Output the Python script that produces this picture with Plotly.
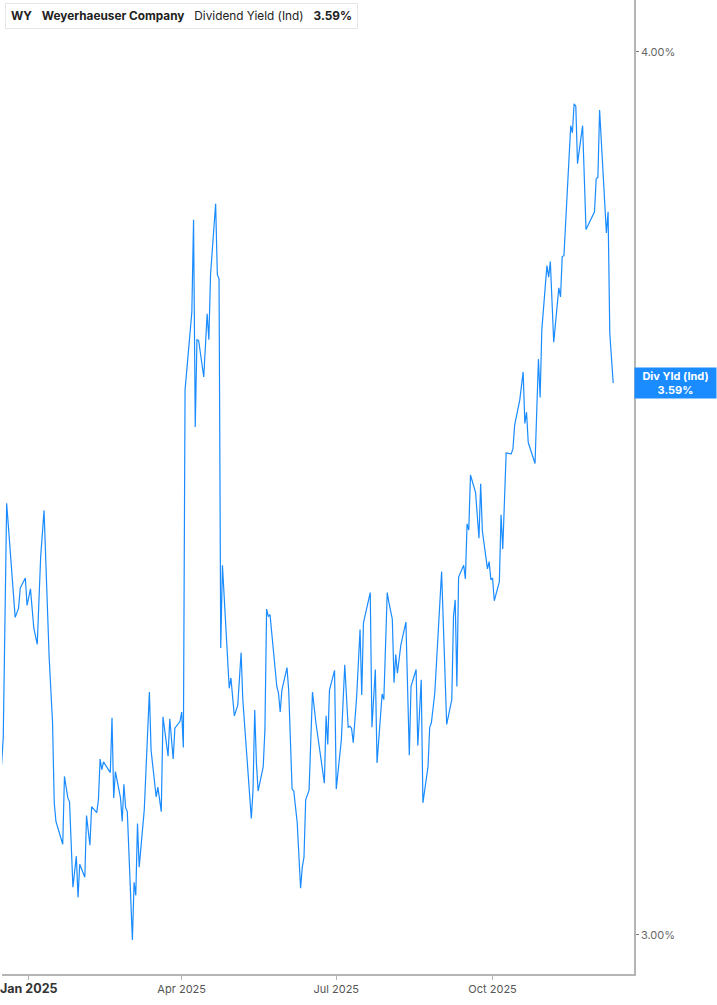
import numpy as np
import plotly.graph_objects as go

# WY dividend yield (indicated), %
dates = [
    "2024-12-16", "2024-12-17", "2024-12-19", "2024-12-22", "2024-12-24", "2024-12-26", "2024-12-27",
    "2024-12-30", "2024-12-31", "2025-01-02", "2025-01-04", "2025-01-06", "2025-01-08", "2025-01-10",
    "2025-01-13", "2025-01-15", "2025-01-16", "2025-01-17", "2025-01-21", "2025-01-22", "2025-01-24",
    "2025-01-25", "2025-01-27", "2025-01-29", "2025-01-30", "2025-01-31", "2025-02-03", "2025-02-04",
    "2025-02-06", "2025-02-07", "2025-02-10", "2025-02-11", "2025-02-12", "2025-02-13", "2025-02-14",
    "2025-02-18", "2025-02-19", "2025-02-20", "2025-02-21", "2025-02-24", "2025-02-25", "2025-02-26",
    "2025-02-27", "2025-02-28", "2025-03-02", "2025-03-03", "2025-03-04", "2025-03-05", "2025-03-06",
    "2025-03-07", "2025-03-10", "2025-03-13", "2025-03-14", "2025-03-17", "2025-03-18", "2025-03-20",
    "2025-03-21", "2025-03-24", "2025-03-25", "2025-03-27", "2025-03-28", "2025-03-31", "2025-04-01",
    "2025-04-02", "2025-04-03", "2025-04-07", "2025-04-08", "2025-04-09", "2025-04-10", "2025-04-11",
    "2025-04-14", "2025-04-16", "2025-04-17", "2025-04-18", "2025-04-21", "2025-04-22", "2025-04-23",
    "2025-04-24", "2025-04-25", "2025-04-28", "2025-04-29", "2025-04-30", "2025-05-02", "2025-05-04",
    "2025-05-06", "2025-05-07", "2025-05-12", "2025-05-13", "2025-05-14", "2025-05-15", "2025-05-16",
    "2025-05-19", "2025-05-20", "2025-05-21", "2025-05-22", "2025-05-23", "2025-05-25", "2025-05-27",
    "2025-05-28", "2025-05-29", "2025-05-30", "2025-06-02", "2025-06-03", "2025-06-05", "2025-06-06",
    "2025-06-08", "2025-06-10", "2025-06-11", "2025-06-12", "2025-06-13", "2025-06-15", "2025-06-17",
    "2025-06-19", "2025-06-24", "2025-06-25", "2025-06-26", "2025-06-27", "2025-06-30", "2025-07-01",
    "2025-07-04", "2025-07-06", "2025-07-08", "2025-07-09", "2025-07-10", "2025-07-11", "2025-07-13",
    "2025-07-15", "2025-07-16", "2025-07-17", "2025-07-21", "2025-07-22", "2025-07-24", "2025-07-25",
    "2025-07-28", "2025-07-29", "2025-07-31", "2025-08-01", "2025-08-03", "2025-08-04", "2025-08-05",
    "2025-08-06", "2025-08-08", "2025-08-11", "2025-08-13", "2025-08-14", "2025-08-17", "2025-08-18",
    "2025-08-20", "2025-08-21", "2025-08-24", "2025-08-25", "2025-08-26", "2025-08-28", "2025-09-01",
    "2025-09-04", "2025-09-07", "2025-09-08", "2025-09-09", "2025-09-10", "2025-09-11", "2025-09-14",
    "2025-09-15", "2025-09-16", "2025-09-17", "2025-09-18", "2025-09-21", "2025-09-23", "2025-09-24",
    "2025-09-25", "2025-09-28", "2025-09-29", "2025-09-30", "2025-10-01", "2025-10-02", "2025-10-05",
    "2025-10-06", "2025-10-07", "2025-10-09", "2025-10-12", "2025-10-13", "2025-10-14", "2025-10-17",
    "2025-10-19", "2025-10-20", "2025-10-21", "2025-10-22", "2025-10-26", "2025-10-28", "2025-10-29",
    "2025-10-30", "2025-11-02", "2025-11-03", "2025-11-04", "2025-11-06", "2025-11-09", "2025-11-10",
    "2025-11-11", "2025-11-12", "2025-11-16", "2025-11-17", "2025-11-18", "2025-11-19", "2025-11-20",
    "2025-11-23", "2025-11-25", "2025-11-30", "2025-12-01", "2025-12-02", "2025-12-03", "2025-12-07",
    "2025-12-08", "2025-12-09", "2025-12-11",
]
div_yield = [
    3.171, 3.200, 3.453, 3.371, 3.327, 3.337, 3.359,
    3.370, 3.340, 3.358, 3.315, 3.298, 3.393, 3.445,
    3.284, 3.215, 3.132, 3.113, 3.090, 3.159, 3.137,
    3.133, 3.047, 3.078, 3.037, 3.070, 3.057, 3.119,
    3.089, 3.128, 3.122, 3.135, 3.177, 3.166, 3.174,
    3.163, 3.220, 3.137, 3.164, 3.137, 3.113, 3.151,
    3.127, 3.123, 3.047, 2.995, 3.052, 3.039, 3.111,
    3.067, 3.125, 3.247, 3.186, 3.138, 3.148, 3.123,
    3.221, 3.180, 3.219, 3.177, 3.209, 3.216, 3.226,
    3.189, 3.583, 3.675, 3.787, 3.540, 3.642, 3.641,
    3.598, 3.673, 3.642, 3.720, 3.807, 3.720, 3.715,
    3.294, 3.384, 3.284, 3.251, 3.262, 3.222, 3.233,
    3.289, 3.239, 3.116, 3.145, 3.228, 3.173, 3.144,
    3.169, 3.207, 3.336, 3.328, 3.330, 3.290, 3.253,
    3.246, 3.226, 3.249, 3.273, 3.249, 3.146, 3.144,
    3.112, 3.046, 3.067, 3.077, 3.135, 3.145, 3.247,
    3.215, 3.152, 3.222, 3.192, 3.249, 3.270, 3.146,
    3.197, 3.276, 3.210, 3.211, 3.209, 3.194, 3.242,
    3.314, 3.244, 3.321, 3.354, 3.210, 3.271, 3.173,
    3.245, 3.239, 3.354, 3.343, 3.325, 3.257, 3.287,
    3.267, 3.297, 3.322, 3.181, 3.253, 3.271, 3.191,
    3.260, 3.132, 3.169, 3.210, 3.215, 3.246, 3.377,
    3.213, 3.239, 3.328, 3.346, 3.253, 3.371, 3.384,
    3.369, 3.430, 3.423, 3.485, 3.465, 3.414, 3.475,
    3.422, 3.380, 3.388, 3.368, 3.370, 3.345, 3.366,
    3.440, 3.402, 3.510, 3.509, 3.515, 3.542, 3.571,
    3.604, 3.544, 3.557, 3.522, 3.498, 3.619, 3.574,
    3.654, 3.731, 3.717, 3.736, 3.639, 3.704, 3.693,
    3.742, 3.743, 3.905, 3.896, 3.933, 3.930, 3.857,
    3.905, 3.775, 3.797, 3.838, 3.840, 3.925, 3.771,
    3.797, 3.650, 3.591,
]

x_ticks = ["2025-01-01", "2025-04-01", "2025-07-01", "2025-10-01"]
x_labels = ["<span style='font-size:12.5px;color:#333'><b>Jan 2025</b></span>",
            "Apr 2025", "Jul 2025", "Oct 2025"]
y_ticks = [3, 4]
y_labels = ["3.00%", "4.00%"]

ticker = "WY"
company = "Weyerhaeuser Company"
metric = "Dividend Yield (Ind)"
last_label = "3.59%"

blue = "#1a8cff"

fig = go.Figure()
fig.add_trace(go.Scatter(
    x=dates, y=div_yield, mode="lines",
    line=dict(color=blue, width=1.2),
    hoverinfo="skip", showlegend=False,
))

fig.update_layout(
    width=717, height=1005,
    margin=dict(l=0, r=83, t=0, b=31),
    paper_bgcolor="white", plot_bgcolor="white",
    font=dict(family="Inter, Roboto, sans-serif", color="#555"),
)
fig.update_xaxes(
    range=["2024-12-16 06:00", "2025-12-23 06:00"],
    tickmode="array", tickvals=x_ticks, ticktext=x_labels,
    tickfont=dict(size=11, color="#555"),
    ticklabeloverflow="allow",
    showgrid=False, zeroline=False,
    showline=True, linecolor="#b5b5b5", linewidth=1.5,
    ticks="outside", ticklen=4, tickcolor="#b5b5b5",
)
fig.update_yaxes(
    type="log", side="right",
    range=[0.4716, 0.6094],
    tickmode="array", tickvals=y_ticks, ticktext=y_labels,
    tickfont=dict(size=11, color="#666"),
    showgrid=False, zeroline=False,
    showline=True, linecolor="#b5b5b5", linewidth=1.5,
    ticks="outside", ticklen=3, tickcolor="#777",
)

# header box, top left
fig.add_annotation(
    xref="paper", yref="paper", x=0.0048, y=0.997,
    xanchor="left", yanchor="top", align="left",
    text=f"<b>{ticker}</b>   <b>{company}</b>   {metric}   <b>{last_label}</b>",
    font=dict(size=11.8, color="#222"),
    bgcolor="white", bordercolor="#e6e6e6", borderwidth=1, borderpad=5,
    showarrow=False,
)
fig.add_shape(
    type="rect", xref="paper", yref="paper",
    x0=0.0048, x1=0.0095, y0=1 - 29 / 974, y1=1 - 4 / 974,
    fillcolor=blue, line=dict(width=0),
)

# last value tag on the right axis
fig.add_annotation(
    xref="paper", yref="y", x=1, y=np.log10(div_yield[-1]),
    xanchor="left", yanchor="middle",
    text=f"<b>Div Yld (Ind)<br>{last_label}</b>",
    font=dict(size=11, color="white"),
    bgcolor=blue, width=79, height=28, borderpad=1,
    showarrow=False,
)

fig.write_html("out.html", config={"displayModeBar": False},
               post_script="document.body.style.margin='0';")
